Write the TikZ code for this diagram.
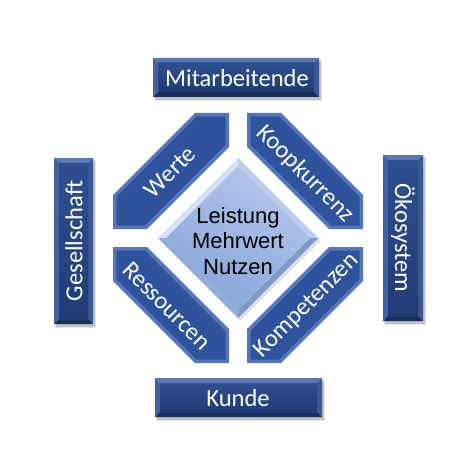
\documentclass[tikz,border=0pt]{standalone}
\usepackage{fontspec}
\setmainfont{Liberation Sans}
\newfontfamily\labfont{Carlito}
\definecolor{bxhi}{HTML}{2E4F90}
\definecolor{bxlo}{HTML}{213C74}
\definecolor{bxtop}{HTML}{5A77B2}
\definecolor{bxleft}{HTML}{4262A2}
\definecolor{bxright}{HTML}{3A5894}
\definecolor{bxbot}{HTML}{1A2E58}
\definecolor{pcedge}{HTML}{5676BA}
\definecolor{pcface}{HTML}{2F529D}
\definecolor{dmtl}{HTML}{D5E1F5}
\definecolor{dmtr}{HTML}{BCCDEB}
\definecolor{dmbr}{HTML}{7E98C9}
\definecolor{dmbl}{HTML}{94ADDA}
\definecolor{dmhi}{HTML}{B3C7EC}
\definecolor{dmlo}{HTML}{88A4D8}
\newcommand\bevbox[4]{%
\begin{scope}[shift={(#1,#2)}]
 \fill[black,opacity=0.10] (1,2) rectangle (#3+3,#4+4);
 \fill[black,opacity=0.15] (2,3) rectangle (#3+2,#4+3);
 \fill[bxtop] (0,0) -- (#3,0) -- (#3-5,5) -- (5,5) -- cycle;
 \fill[bxleft] (0,0) -- (5,5) -- (5,#4-5) -- (0,#4) -- cycle;
 \fill[bxright] (#3,0) -- (#3,#4) -- (#3-5,#4-5) -- (#3-5,5) -- cycle;
 \fill[bxbot] (0,#4) -- (#3,#4) -- (#3-5,#4-5) -- (5,#4-5) -- cycle;
 \shade[top color=bxhi, bottom color=bxlo] (5,5) rectangle (#3-5,#4-5);
\end{scope}}
\tikzset{
 lab/.style={font=\labfont\fontsize{24.5}{28}\selectfont, text=white, inner sep=0pt},
 ctrtext/.style={font=\fontsize{22}{25.5}\selectfont, text=black, align=center, inner sep=0pt}
}
\begin{document}
\begin{tikzpicture}[x=1pt,y=-1pt]
\useasboundingbox (0,0) rectangle (476,476);
\fill[white] (0,0) rectangle (476,476);
% outer boxes
\bevbox{153}{58}{166}{39}
\bevbox{54}{158}{39}{166}
\bevbox{383}{155}{40}{166}
\bevbox{155}{378}{167}{39}
% octagon pieces
\foreach \sx/\sy in {1/1,-1/1,1/-1,-1/-1}{
 \begin{scope}[shift={(238,238)}, xscale=\sx, yscale=\sy]
  \fill[pcedge] (-43,-125) -- (-9,-125) -- (-9,-91) -- (-91,-9) -- (-125,-9) -- (-125,-43) -- cycle;
  \fill[pcface] (-41.3,-121.5) -- (-12.5,-121.5) -- (-12.5,-93.2) -- (-93.2,-12.5) -- (-121.5,-12.5) -- (-121.5,-41.3) -- cycle;
 \end{scope}
}
% diamond
\fill[black,opacity=0.12] (240,161) -- (321,241) -- (240,321) -- (160,241) -- cycle;
\fill[dmtl] (158,238) -- (238,158) -- (238,166) -- (166,238) -- cycle;
\fill[dmtr] (238,158) -- (318,238) -- (310,238) -- (238,166) -- cycle;
\fill[dmbr] (318,238) -- (238,318) -- (238,310) -- (310,238) -- cycle;
\fill[dmbl] (238,318) -- (158,238) -- (166,238) -- (238,310) -- cycle;
\shade[top color=dmhi, bottom color=dmlo, shading angle=-30] (238,166) -- (310,238) -- (238,310) -- (166,238) -- cycle;
% labels
\node[lab] (mit) at (237,78) {Mitarbeitende};
\node[lab] (kun) at (238,398) {Kunde};
\node[lab, rotate=90] (ges) at (74,241) {Gesellschaft};
\node[lab, rotate=-90] (oko) at (403,238) {Ökosystem};
\node[lab, rotate=45] (wer) at (170,172) {Werte};
\node[lab, rotate=-45] (koo) at (305,174) {Koopkurrenz};
\node[lab, rotate=-45] (res) at (167,306) {Ressourcen};
\node[lab, rotate=45] (kom) at (307,306) {Kompetenzen};
\node[ctrtext] (ctr) at (238,241) {Leistung\\Mehrwert\\Nutzen};
\end{tikzpicture}
\end{document}
